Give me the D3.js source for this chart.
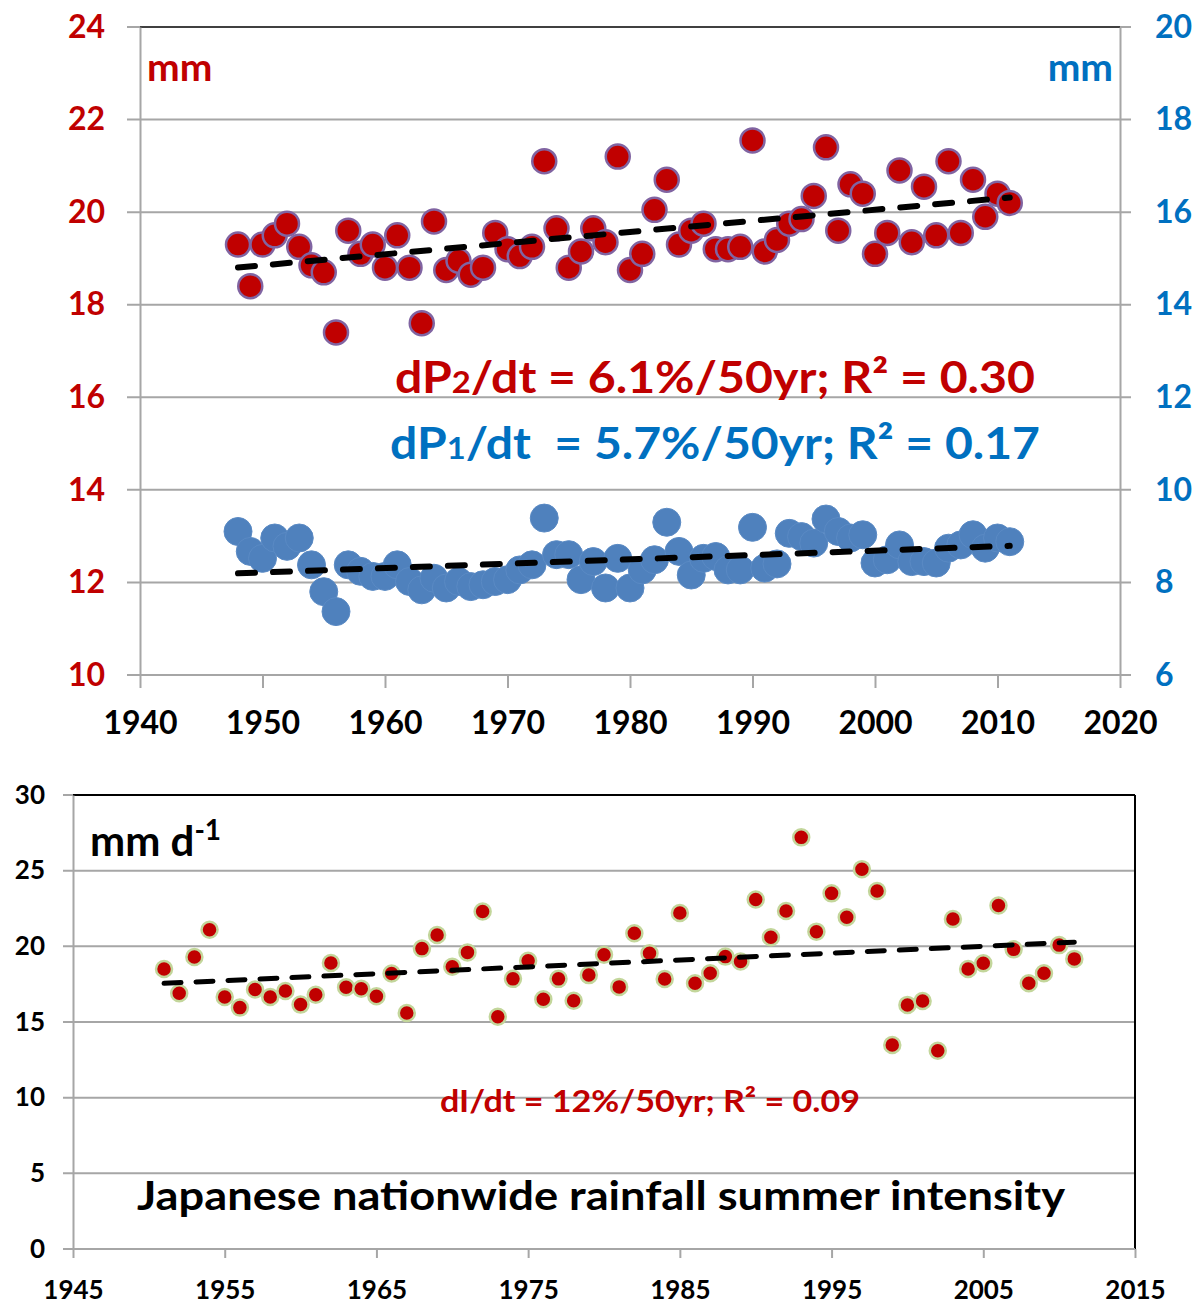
<!DOCTYPE html>
<html><head><meta charset="utf-8">
<script src="https://cdn.jsdelivr.net/npm/d3@7"></script>
<style>
html,body{margin:0;padding:0;background:#fff;}
svg text{font-family:Lato,"Open Sans",sans-serif;font-weight:bold;}
</style></head>
<body>
<svg id="chart" width="1196" height="1306"></svg>
<script>
// ---------- DATA ----------
const yearsTop = d3.range(1948, 2012);
const p2Values = [19.3,18.4,19.3,19.5,19.75,19.25,18.85,18.7,17.4,19.6,19.1,19.3,18.8,19.5,18.8,17.6,19.8,18.75,18.95,18.65,18.8,19.55,19.2,19.05,19.25,21.1,19.65,18.8,19.15,19.65,19.35,21.2,18.75,19.1,20.05,20.7,19.3,19.6,19.75,19.2,19.2,19.25,21.55,19.15,19.4,19.75,19.85,20.35,21.4,19.6,20.6,20.4,19.1,19.55,20.9,19.35,20.55,19.5,21.1,19.55,20.7,19.9,20.4,20.2];
const p1Values = [9.1,8.67,8.52,8.96,8.78,8.96,8.38,7.8,7.37,8.38,8.24,8.13,8.13,8.38,8.02,7.84,8.09,7.88,8.02,7.91,7.95,8.02,8.06,8.27,8.38,9.39,8.6,8.6,8.06,8.45,7.88,8.52,7.88,8.27,8.49,9.3,8.67,8.16,8.52,8.56,8.27,8.27,9.19,8.31,8.4,9.06,8.99,8.85,9.37,9.1,8.96,9.03,8.42,8.49,8.81,8.45,8.45,8.42,8.74,8.81,9.03,8.74,8.96,8.88];
const yearsBottom = d3.range(1951, 2012);
const intensityValues = [18.5,16.9,19.3,21.1,16.65,15.95,17.15,16.65,17.05,16.15,16.8,18.9,17.3,17.2,16.7,18.2,15.6,19.85,20.75,18.65,19.6,22.3,15.35,17.85,19.05,16.5,17.85,16.4,18.1,19.45,17.32,20.87,19.54,17.84,22.2,17.56,18.22,19.32,19.0,23.1,20.6,22.34,27.2,20.97,23.5,21.92,25.1,23.66,13.48,16.13,16.39,13.1,21.8,18.5,18.88,22.7,19.8,17.56,18.22,20.08,19.17];
const topXTicks = [1940,1950,1960,1970,1980,1990,2000,2010,2020];
const topLeftTicks = [10,12,14,16,18,20,22,24];
const topRightTicks = [6,8,10,12,14,16,18,20];
const bottomXTicks = [1945,1955,1965,1975,1985,1995,2005,2015];
const bottomYTicks = [0,5,10,15,20,25,30];
const labelP2 = "6.1%/50yr; R² = 0.30";
const labelP1 = "5.7%/50yr; R² = 0.17";
const labelI = "dI/dt = 12%/50yr; R² = 0.09";
const titleText = "Japanese nationwide rainfall summer intensity";

// ---------- HELPERS ----------
const RED = "#c00000", BLUE = "#0070c0", GRID = "#a6a6a6";
const svg = d3.select("#chart");

function regression(xs, ys) {
  const mx = d3.mean(xs), my = d3.mean(ys);
  let num = 0, den = 0;
  xs.forEach((x, i) => { num += (x - mx) * (ys[i] - my); den += (x - mx) * (x - mx); });
  const b = num / den;
  return x => my + b * (x - mx);
}

// ---------- TOP CHART ----------
const tx = d3.scaleLinear().domain([1940, 2020]).range([140, 1120]);
const tyL = d3.scaleLinear().domain([10, 24]).range([675, 27]);
const tyR = d3.scaleLinear().domain([6, 20]).range([675, 27]);

const gTop = svg.append("g");
gTop.selectAll("line.grid").data(topLeftTicks.filter(v => v > 10 && v < 24)).join("line")
  .attr("x1", 127).attr("x2", 1131).attr("y1", d => tyL(d)).attr("y2", d => tyL(d))
  .attr("stroke", GRID).attr("stroke-width", 2);
gTop.append("line").attr("x1", 127).attr("x2", 140).attr("y1", tyL(24)).attr("y2", tyL(24)).attr("stroke", GRID).attr("stroke-width", 2);
gTop.append("line").attr("x1", 1120).attr("x2", 1131).attr("y1", tyL(24)).attr("y2", tyL(24)).attr("stroke", GRID).attr("stroke-width", 2);
gTop.append("line").attr("x1", 140).attr("x2", 1120).attr("y1", tyL(24)).attr("y2", tyL(24)).attr("stroke", "#000").attr("stroke-width", 1.5);
const xAxisTop = d3.axisBottom(tx).tickValues(topXTicks).tickFormat(d3.format("d")).tickSize(13).tickSizeOuter(0);
const gxT = gTop.append("g").attr("transform", `translate(0,${tyL(10)})`).call(xAxisTop);
gxT.select(".domain").attr("stroke", GRID).attr("stroke-width", 2).attr("d", `M127,0H1131`);
gxT.selectAll(".tick line").attr("stroke", GRID).attr("stroke-width", 2);
gxT.selectAll(".tick text").attr("y", 48).attr("dy", "0.35em").attr("fill", "#000").attr("font-size", 32);
const yAxisL = d3.axisLeft(tyL).tickValues(topLeftTicks).tickSize(0).tickSizeOuter(0);
const gyL = gTop.append("g").attr("transform", "translate(140,0)").call(yAxisL);
gyL.select(".domain").attr("stroke", GRID).attr("stroke-width", 2);
gyL.selectAll(".tick text").attr("x", -35).attr("fill", RED).attr("font-size", 32);
const yAxisR = d3.axisRight(tyR).tickValues(topRightTicks).tickSize(0).tickSizeOuter(0);
const gyR = gTop.append("g").attr("transform", "translate(1120,0)").call(yAxisR);
gyR.select(".domain").attr("stroke", GRID).attr("stroke-width", 2);
gyR.selectAll(".tick text").attr("x", 35).attr("fill", BLUE).attr("font-size", 32);

gTop.append("g").selectAll("circle").data(yearsTop.map((y, i) => [y, p1Values[i]])).join("circle")
  .attr("cx", d => tx(d[0])).attr("cy", d => tyR(d[1])).attr("r", 14)
  .attr("fill", "#4f81bd").attr("stroke", "#5a8ac4").attr("stroke-width", 1);
gTop.append("g").selectAll("circle").data(yearsTop.map((y, i) => [y, p2Values[i]])).join("circle")
  .attr("cx", d => tx(d[0])).attr("cy", d => tyL(d[1])).attr("r", 12)
  .attr("fill", RED).attr("stroke", "#8064a2").attr("stroke-width", 2.5);

const f2 = regression(yearsTop, p2Values);
const f1 = regression(yearsTop, p1Values);
const x0 = yearsTop[0], x1 = yearsTop[yearsTop.length - 1];
gTop.append("line").attr("x1", tx(x0)).attr("x2", tx(x1)).attr("y1", tyL(f2(x0))).attr("y2", tyL(f2(x1)))
  .attr("stroke", "#000").attr("stroke-width", 6).attr("stroke-dasharray", "17 18").attr("stroke-linecap", "round");
gTop.append("line").attr("x1", tx(x0)).attr("x2", tx(x1)).attr("y1", tyR(f1(x0))).attr("y2", tyR(f1(x1)))
  .attr("stroke", "#000").attr("stroke-width", 6).attr("stroke-dasharray", "17 18").attr("stroke-linecap", "round");

gTop.append("text").attr("x", 147).attr("y", 67).attr("dy", "0.35em").attr("fill", RED).attr("font-size", 39).text("mm");
gTop.append("text").attr("x", 1113).attr("y", 67).attr("dy", "0.35em").attr("text-anchor", "end").attr("fill", BLUE).attr("font-size", 39).text("mm");

function annot(g, x, y, color, sub, rest, len, size) {
  const t = g.append("text").attr("x", x).attr("y", y).attr("fill", color).attr("font-size", size)
    .attr("textLength", len).attr("lengthAdjust", "spacingAndGlyphs").style("white-space", "pre");
  t.append("tspan").text("dP");
  t.append("tspan").attr("font-size", size * 0.68).text(sub);
  t.append("tspan").text("/dt " + (sub === "1" ? " " : "") + "= " + rest);
  return t;
}
annot(gTop, 395, 393, RED, "2", labelP2, 640, 44);
annot(gTop, 390, 459, BLUE, "1", labelP1, 650, 44);

// ---------- BOTTOM CHART ----------
const bx = d3.scaleLinear().domain([1945, 2015]).range([73, 1135]);
const by = d3.scaleLinear().domain([0, 30]).range([1249, 795]);
const gBot = svg.append("g");
gBot.selectAll("line.grid").data(bottomYTicks.filter(v => v > 0 && v < 30)).join("line")
  .attr("x1", 63).attr("x2", 1135).attr("y1", d => by(d)).attr("y2", d => by(d))
  .attr("stroke", GRID).attr("stroke-width", 2);
gBot.append("line").attr("x1", 63).attr("x2", 73).attr("y1", by(30)).attr("y2", by(30)).attr("stroke", GRID).attr("stroke-width", 2);
gBot.append("line").attr("x1", 73).attr("x2", 1135).attr("y1", by(30)).attr("y2", by(30)).attr("stroke", "#000").attr("stroke-width", 2);
gBot.append("line").attr("x1", 1135).attr("x2", 1135).attr("y1", by(30)).attr("y2", by(0)).attr("stroke", "#000").attr("stroke-width", 2);
const xAxisB = d3.axisBottom(bx).tickValues(bottomXTicks).tickFormat(d3.format("d")).tickSize(9).tickSizeOuter(0);
const gxB = gBot.append("g").attr("transform", `translate(0,${by(0)})`).call(xAxisB);
gxB.select(".domain").attr("stroke", GRID).attr("stroke-width", 2).attr("d", "M63,0H1135");
gxB.selectAll(".tick line").attr("stroke", GRID).attr("stroke-width", 2);
gxB.selectAll(".tick text").attr("y", 50).attr("dy", 0).attr("fill", "#000").attr("font-size", 26);
const yAxisB = d3.axisLeft(by).tickValues(bottomYTicks).tickSize(0).tickSizeOuter(0);
const gyB = gBot.append("g").attr("transform", "translate(73,0)").call(yAxisB);
gyB.select(".domain").attr("stroke", GRID).attr("stroke-width", 2);
gyB.selectAll(".tick text").attr("x", -28).attr("fill", "#000").attr("font-size", 26);

gBot.append("g").selectAll("circle").data(yearsBottom.map((y, i) => [y, intensityValues[i]])).join("circle")
  .attr("cx", d => bx(d[0])).attr("cy", d => by(d[1])).attr("r", 8)
  .attr("fill", RED).attr("stroke", "#c3d69b").attr("stroke-width", 2.5);
const fi = regression(yearsBottom, intensityValues);
const b0 = yearsBottom[0], b1 = yearsBottom[yearsBottom.length - 1];
gBot.append("line").attr("x1", bx(b0)).attr("x2", bx(b1)).attr("y1", by(fi(b0))).attr("y2", by(fi(b1)))
  .attr("stroke", "#000").attr("stroke-width", 5).attr("stroke-dasharray", "17 15").attr("stroke-linecap", "round");

const unit = gBot.append("text").attr("x", 90).attr("y", 856).attr("fill", "#000").attr("font-size", 42);
unit.append("tspan").text("mm d");
unit.append("tspan").attr("font-size", 28).attr("dy", -16).text("-1");
gBot.append("text").attr("x", 440).attr("y", 1112).attr("fill", RED).attr("font-size", 31)
  .attr("textLength", 420).attr("lengthAdjust", "spacingAndGlyphs").text(labelI);
gBot.append("text").attr("x", 137).attr("y", 1210).attr("fill", "#000").attr("font-size", 40)
  .attr("textLength", 928).attr("lengthAdjust", "spacingAndGlyphs").text(titleText);
</script>
</body></html>
